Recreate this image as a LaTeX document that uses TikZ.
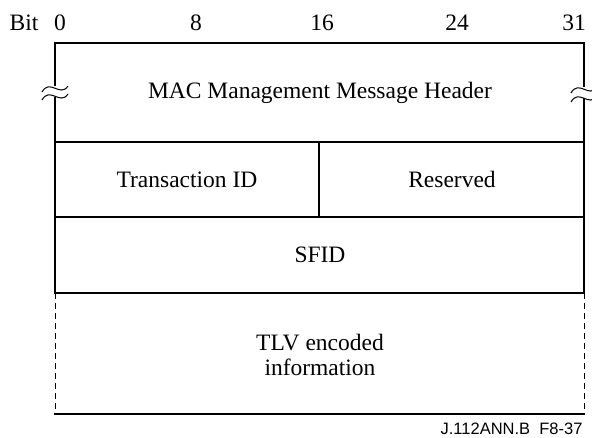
\documentclass[tikz,border=0pt]{standalone}
\usepackage{fontspec}
\setmainfont{Liberation Serif}
\newfontfamily\figfont{Liberation Sans}
\begin{document}
\begin{tikzpicture}[x=1pt,y=-1pt,line join=miter,
  lbl/.style={font=\fontsize{23.5}{27}\selectfont,text height=1.5ex,text depth=.25ex},
  boxline/.style={line width=1.8pt},
  wavebreak/.style={line width=1pt}]
\useasboundingbox (0,0) rectangle (592,438);
% bit numbers
\draw (24,28) node[lbl] (bit) {Bit};
\draw (60,28) node[lbl] (b0) {0};
\draw (196,28) node[lbl] (b8) {8};
\draw (322,28) node[lbl] (b16) {16};
\draw (457,28) node[lbl] (b24) {24};
\draw (574,28) node[lbl] (b31) {31};
% header field
\draw [boxline] (55,86) -- (55,43) -- (584,43) -- (584,87);
\draw [boxline] (55,97) -- (55,142);
\draw [boxline] (584,98) -- (584,142);
\draw [wavebreak] (42,92) .. controls (50,78) and (60,98) .. (68,86);
\draw [wavebreak] (42,100) .. controls (50,86) and (60,106) .. (68,94);
\draw [wavebreak] (571,93) .. controls (579,79) and (589,99) .. (597,87);
\draw [wavebreak] (571,102) .. controls (579,88) and (589,108) .. (597,96);
\draw (320,96) node[lbl] (hdr) {MAC Management Message Header};
% transaction id and sfid
\draw [boxline] (55,142) -- (584,142) -- (584,293) -- (55,293) -- cycle;
\draw [boxline] (55,217) -- (584,217);
\draw [boxline] (319,142) -- (319,217);
\draw (187,185) node[lbl] (tid) {Transaction ID};
\draw (452,185) node[lbl] (rsv) {Reserved};
\draw (320,260) node[lbl] (sfid) {SFID};
% tlv
\draw [line width=0.8pt,dash pattern=on 6pt off 4pt] (55,293) -- (55,414);
\draw [line width=0.8pt,dash pattern=on 6pt off 4pt] (584,293) -- (584,414);
\draw [boxline] (54,414) -- (585,414);
\draw (320,355) node[font=\fontsize{23.5}{27}\selectfont,align=center] (tlv) {TLV encoded\\[-2pt]information};
\draw (586,429) node[anchor=east,font=\figfont\fontsize{16.5}{19}\selectfont] (ref) {J.112ANN.B\ \ F8-37};
\end{tikzpicture}
\end{document}
